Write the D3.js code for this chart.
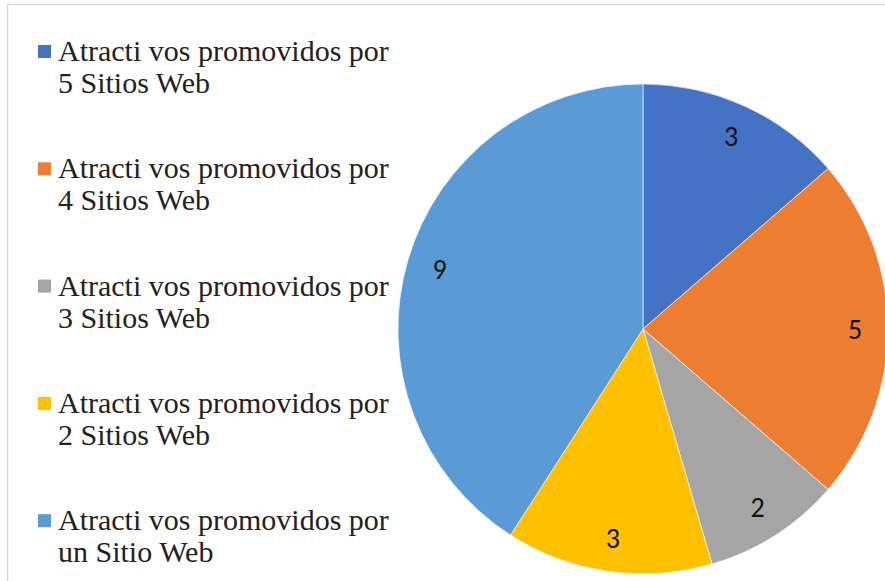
<!DOCTYPE html>
<html>
<head>
<meta charset="utf-8">
<script src="https://cdn.jsdelivr.net/npm/d3@7"></script>
<style>
  html, body { margin: 0; padding: 0; background: #fff; }
  svg { display: block; }
</style>
</head>
<body>
<script>
// data
var categories = [
  "Atractivos promovidos por 5 Sitios Web",
  "Atractivos promovidos por 4 Sitios Web",
  "Atractivos promovidos por 3 Sitios Web",
  "Atractivos promovidos por 2 Sitios Web",
  "Atractivos promovidos por un Sitio Web"
];
var legendLines = [
  ["Atracti vos promovidos por", "5 Sitios Web"],
  ["Atracti vos promovidos por", "4 Sitios Web"],
  ["Atracti vos promovidos por", "3 Sitios Web"],
  ["Atracti vos promovidos por", "2 Sitios Web"],
  ["Atracti vos promovidos por", "un Sitio Web"]
];
var values = [3, 5, 2, 3, 9];
var colors = ["#4472C4", "#ED7D31", "#A5A5A5", "#FFC000", "#5B9BD5"];

var W = 885, H = 581;
var cx = 643, cy = 329, R = 245;

var svg = d3.select("body").append("svg")
    .attr("width", W)
    .attr("height", H);

// chart area border
svg.append("rect")
    .attr("x", 7.5).attr("y", 4.5)
    .attr("width", W + 10).attr("height", H + 10)
    .attr("fill", "none")
    .attr("stroke", "#d9d9d9")
    .attr("stroke-width", 1.5);

var pie = d3.pie().sort(null).value(function(d) { return d; });
var arcs = pie(values);

var arc = d3.arc().innerRadius(0).outerRadius(R);
var labelArc = d3.arc().innerRadius(212).outerRadius(212);

var g = svg.append("g").attr("transform", "translate(" + cx + "," + cy + ")");

g.selectAll("path.slice")
  .data(arcs)
  .enter().append("path")
    .attr("class", "slice")
    .attr("d", arc)
    .attr("fill", function(d, i) { return colors[i]; })
    .attr("stroke", "#ffffff")
    .attr("stroke-width", 0.6);

g.selectAll("text.lbl")
  .data(arcs)
  .enter().append("text")
    .attr("class", "lbl")
    .attr("transform", function(d) { return "translate(" + labelArc.centroid(d) + ")"; })
    .attr("text-anchor", "middle")
    .attr("dy", "0.34em")
    .style("font-family", "Carlito, Calibri, 'Liberation Sans', sans-serif")
    .style("font-size", "28px")
    .style("fill", "#111")
    .text(function(d) { return d.data; });

// legend
var leg = svg.append("g").attr("class", "legend");
var item = leg.selectAll("g.item")
  .data(legendLines)
  .enter().append("g")
    .attr("class", "item")
    .attr("transform", function(d, i) { return "translate(0," + (i * 117.3) + ")"; });

item.append("rect")
    .attr("x", 38).attr("y", 45)
    .attr("width", 13).attr("height", 13)
    .attr("fill", function(d, i) { return colors[i]; });

item.append("text")
    .attr("x", 58)
    .attr("y", 61)
    .style("font-family", "'Liberation Serif', 'Times New Roman', serif")
    .style("font-size", "30px")
    .style("fill", "#222")
    .selectAll("tspan")
    .data(function(d) { return d; })
    .enter().append("tspan")
      .attr("x", 58)
      .attr("dy", function(d, j) { return j === 0 ? 0 : 32; })
      .text(function(d) { return d; });
</script>
</body>
</html>
